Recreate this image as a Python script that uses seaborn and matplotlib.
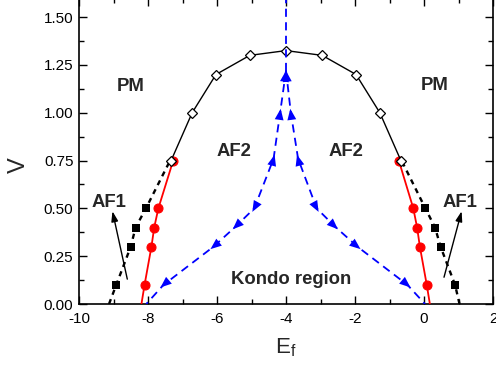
import numpy as np
import matplotlib
matplotlib.use("Agg")
import matplotlib.pyplot as plt
import seaborn as sns

# PM boundary (open diamonds)
pm_ef = [-7.33, -6.72, -6.03, -5.05, -4.0, -2.95, -1.97, -1.28, -0.67]
pm_v = [0.75, 1.0, 1.2, 1.3, 1.325, 1.3, 1.2, 1.0, 0.75]

# AF2 boundary (red circles)
red_left_ef = [-8.19, -8.1, -7.9, -7.82, -7.7, -7.27]
red_right_ef = [0.17, 0.08, -0.12, -0.2, -0.31, -0.73]
red_v = [0.0, 0.1, 0.3, 0.4, 0.5, 0.75]

# AF1 boundary (black squares, dotted)
sq_left_ef = [-9.13, -8.92, -8.5, -8.36, -8.06, -7.36]
sq_right_ef = [1.03, 0.9, 0.48, 0.32, 0.04, -0.65]
sq_v = [0.0, 0.1, 0.3, 0.4, 0.5, 0.75]

# flow lines (blue dashed, with arrows)
flow_left_ef = [-4.0, -4.17, -4.36, -4.92, -5.46, -6.1, -7.55, -8.05]
flow_right_ef = [-4.0, -3.86, -3.65, -3.11, -2.58, -1.93, -0.48, 0.03]
flow_v = [1.22, 1.0, 0.76, 0.5, 0.405, 0.3, 0.1, 0.0]
flow_up = [True, True, True, False, False, False, False]
vert_ef = [-4.0, -4.0]
vert_v = [1.22, 1.62]

# AF1 pointer arrows
af1_tail_ef = [-8.6, 0.58]
af1_tail_v = [0.13, 0.14]
af1_tip_ef = [-9.03, 1.09]
af1_tip_v = [0.485, 0.485]

# region labels
labels = ["PM", "PM", "AF2", "AF2", "AF1", "AF1", "Kondo region"]
label_ef = [-8.5, 0.32, -5.5, -2.25, -9.13, 1.04, -3.86]
label_v = [1.136, 1.14, 0.80, 0.80, 0.53, 0.53, 0.13]

sns.set_style("ticks")
plt.rcParams["font.family"] = ["Liberation Sans", "DejaVu Sans"]
plt.rcParams["mathtext.default"] = "regular"
plt.rcParams["axes.unicode_minus"] = False

fig = plt.figure(figsize=(4.96, 3.72), dpi=100)
ax = fig.add_axes([79 / 496, 68 / 372, 414 / 496, 306 / 372])
ax.set_xlim(-10, 2)
ax.set_ylim(0, 1.6)

# boundaries
for ef in (red_left_ef, red_right_ef):
    sns.lineplot(x=ef, y=red_v, sort=False, estimator=None, ax=ax, color="red",
                 lw=1.3, marker="o", ms=6.5, mec="red", markevery=[1, 2, 3, 4, 5], zorder=3)
for ef in (sq_left_ef, sq_right_ef):
    sns.lineplot(x=ef, y=sq_v, sort=False, estimator=None, ax=ax, color="black",
                 lw=1.7, ls=(0, (2.2, 2)), marker="s", ms=5.5, mew=0,
                 markevery=[1, 2, 3, 4], zorder=3)
sns.lineplot(x=pm_ef, y=pm_v, sort=False, estimator=None, ax=ax, color="black",
             lw=1.0, marker="D", ms=5.5, mfc="white", mec="black", mew=0.9, zorder=4)

# flow lines
for ef in (flow_left_ef, flow_right_ef):
    sns.lineplot(x=ef, y=flow_v, sort=False, estimator=None, ax=ax, color="#0000ff",
                 lw=1.3, ls=(0, (4.5, 3)), zorder=5)
sns.lineplot(x=vert_ef, y=vert_v, sort=False, estimator=None, ax=ax, color="#0000ff",
             lw=1.3, ls=(0, (4.5, 3)), zorder=5)

to_disp = ax.transData
to_data = ax.transData.inverted()
for ef in (flow_left_ef, flow_right_ef):
    pts = to_disp.transform(np.column_stack([ef, flow_v]))
    n = len(pts)
    for i, up in enumerate(flow_up):
        a = pts[max(i - 1, 0)]
        b = pts[min(i + 1, n - 1)]
        d = a - b if up else b - a
        d = d / np.hypot(*d)
        tip = pts[i] + (0 if i == 0 else 4) * d
        tail = tip - 10 * d
        tip_d, tail_d = to_data.transform([tip, tail])
        ax.annotate("", xy=tip_d, xytext=tail_d, zorder=6,
                    arrowprops=dict(arrowstyle="-|>,head_length=0.8,head_width=0.32",
                                    mutation_scale=10, color="#0000ff", lw=0,
                                    shrinkA=0, shrinkB=0))

for x0, y0, x1, y1 in zip(af1_tail_ef, af1_tail_v, af1_tip_ef, af1_tip_v):
    ax.annotate("", xy=(x1, y1), xytext=(x0, y0), zorder=6,
                arrowprops=dict(arrowstyle="-|>,head_length=0.6,head_width=0.2",
                                mutation_scale=10, color="black", lw=1.0,
                                shrinkA=0, shrinkB=0))

for t, x, y in zip(labels, label_ef, label_v):
    ax.text(x, y, t, ha="center", va="center", fontsize=13.3, fontweight="bold", zorder=7)

ax.set_xticks(np.arange(-10, 3, 2))
ax.set_xticks(np.arange(-9, 2, 2), minor=True)
ax.set_yticks(np.arange(0, 1.51, 0.25))
ax.set_yticks(np.arange(0.125, 1.6, 0.25), minor=True)
ax.set_yticklabels([f"{v:.2f}" for v in np.arange(0, 1.51, 0.25)])
ax.tick_params(which="both", direction="in", top=True, right=True, width=1.0,
               labelsize=11, colors="black")
ax.tick_params(which="major", length=6)
ax.tick_params(which="minor", length=3.5)
ax.tick_params(axis="x", pad=6)
ax.tick_params(axis="y", pad=4)
for s in ax.spines.values():
    s.set_linewidth(1.2)
    s.set_color("black")

ax.set_xlabel("E$_f$", fontsize=16)
ax.set_ylabel("V", fontsize=17)
ax.xaxis.set_label_coords(0.5, -0.105)
ax.yaxis.set_label_coords(-0.118, 0.455)

fig.savefig("out.png", dpi=100)
